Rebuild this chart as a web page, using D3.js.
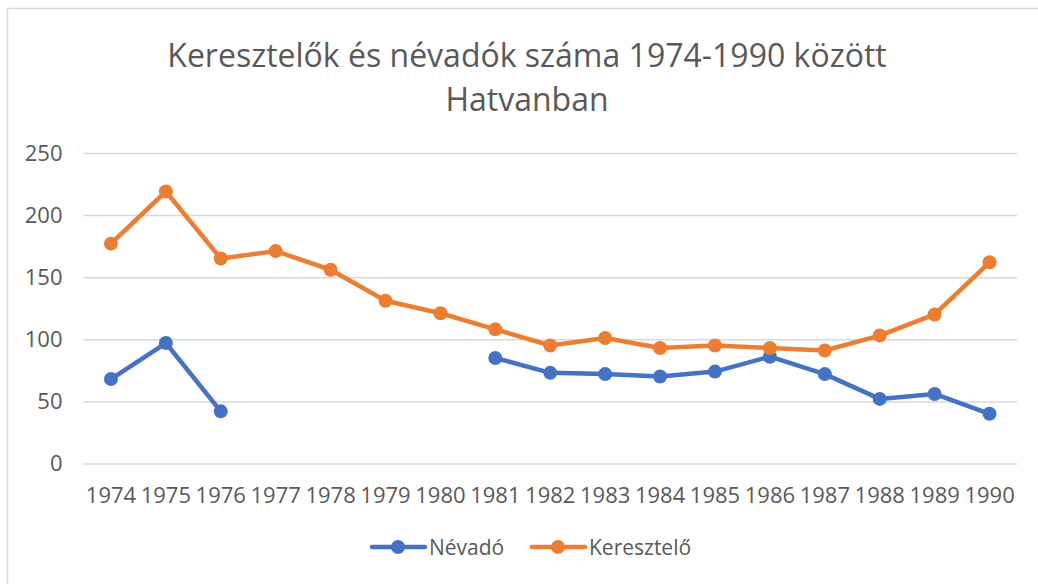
<!DOCTYPE html>
<html>
<head>
<meta charset="utf-8">
<script src="https://cdn.jsdelivr.net/npm/d3@7"></script>
<style>
  body { margin: 0; background: #fff; }
  text { font-family: "Open Sans", "Noto Sans", sans-serif; fill: #595959; }
</style>
</head>
<body>
<svg id="chart" width="1038" height="584"></svg>
<script>
// Data
const years = ["1974","1975","1976","1977","1978","1979","1980","1981","1982","1983","1984","1985","1986","1987","1988","1989","1990"]
const nevado = [68, 97, 42, null, null, null, null, 85, 73, 72, 70, 74, 86, 72, 52, 56, 40]
const kereszt = [177, 219, 165, 171, 156, 131, 121, 108, 95, 101, 93, 95, 93, 91, 103, 120, 162]
const yTicks = [0, 50, 100, 150, 200, 250]
const titleLines = ["Keresztelők és névadók száma 1974-1990 között", "Hatvanban"]

const series = [
    { name: "Névadó", values: nevado, colour: "#4472C4" },
    { name: "Keresztelő", values: kereszt, colour: "#ED7D31" }
]

const svg = d3.select("#chart")

// chart frame (runs off the right and bottom of the picture)
svg.append("rect")
    .attr("x", 7.5).attr("y", 8.5)
    .attr("width", 1100).attr("height", 700)
    .attr("fill", "none")
    .attr("stroke", "#d9d9d9")
    .attr("stroke-width", 1.5)

// plot area
const plotLeft = 83.5, plotRight = 1017, plotTop = 153, plotBottom = 463.5

const x = d3.scaleBand().domain(years).range([plotLeft, plotRight])
const y = d3.scaleLinear().domain([0, 250]).range([plotBottom, plotTop])

// title
svg.append("g").selectAll("text")
    .data(titleLines)
    .join("text")
    .attr("x", 527)
    .attr("y", (d, i) => 66.5 + i * 44)
    .attr("text-anchor", "middle")
    .style("font-size", "32px")
    .text(d => d)

// gridlines + y labels
const yAxis = svg.append("g")
    .attr("transform", `translate(${plotLeft},0)`)
    .call(d3.axisLeft(y).tickValues(yTicks).tickSize(-(plotRight - plotLeft)).tickPadding(21))
yAxis.select(".domain").remove()
yAxis.selectAll(".tick line").attr("stroke", "#d9d9d9").attr("stroke-width", 1.5)
yAxis.selectAll(".tick text").style("font-size", "22px").attr("fill", "#595959")

// x labels
const xAxis = svg.append("g")
    .attr("transform", `translate(0,${plotBottom})`)
    .call(d3.axisBottom(x).tickSize(0).tickPadding(24))
xAxis.select(".domain").remove()
xAxis.selectAll(".tick text").style("font-size", "22px").attr("fill", "#595959")

// lines and markers
const line = d3.line()
    .defined(d => d.v != null)
    .x(d => x(d.year) + x.bandwidth() / 2)
    .y(d => y(d.v))

series.forEach(s => {
    const pts = years.map((yr, i) => ({ year: yr, v: s.values[i] }))
    const g = svg.append("g")
    g.append("path")
        .datum(pts)
        .attr("d", line)
        .attr("fill", "none")
        .attr("stroke", s.colour)
        .attr("stroke-width", 4.5)
        .attr("stroke-linejoin", "round")
        .attr("stroke-linecap", "round")
    g.selectAll("circle")
        .data(pts.filter(d => d.v != null))
        .join("circle")
        .attr("cx", d => x(d.year) + x.bandwidth() / 2)
        .attr("cy", d => y(d.v))
        .attr("r", 7)
        .attr("fill", s.colour)
})

// legend
const legendX = [370, 530]
const legend = svg.append("g").selectAll("g")
    .data(series)
    .join("g")
    .attr("transform", (d, i) => `translate(${legendX[i]},547)`)
legend.append("line")
    .attr("x1", 2).attr("x2", 55)
    .attr("stroke", d => d.colour)
    .attr("stroke-width", 4.5)
    .attr("stroke-linecap", "round")
legend.append("circle")
    .attr("cx", 28).attr("r", 7)
    .attr("fill", d => d.colour)
legend.append("text")
    .attr("x", 59).attr("y", 8)
    .style("font-size", "21px")
    .text(d => d.name)
</script>
</body>
</html>
